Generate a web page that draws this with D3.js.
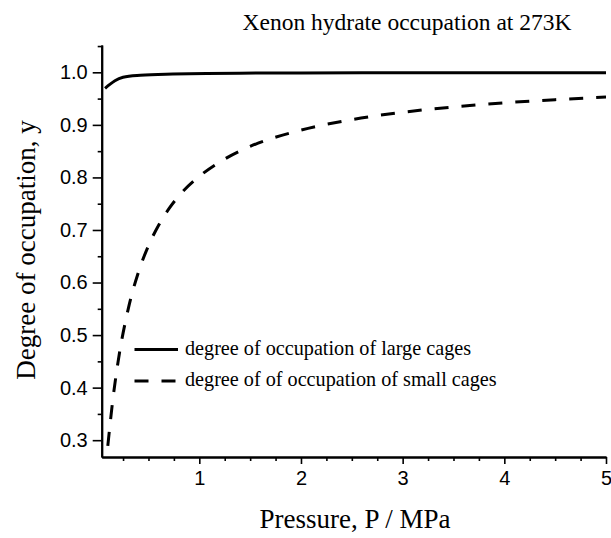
<!DOCTYPE html>
<html>
<head>
<meta charset="utf-8">
<script src="https://cdn.jsdelivr.net/npm/d3@7"></script>
<style>
  html, body { margin: 0; padding: 0; background: #fff; }
  svg { display: block; }
</style>
</head>
<body>
<div id="chart"></div>
<script>
// ---- Data ----
const title = "Xenon hydrate occupation at 273K";
const xLabel = "Pressure, P / MPa";
const yLabel = "Degree of occupation, y";

const largePressure = [0.073, 0.12, 0.17, 0.25, 0.42, 0.74, 1.07, 2.0, 3.0, 4.0, 5.0];
const largeOccupation = [0.9695, 0.977, 0.984, 0.9905, 0.9943, 0.9968, 0.998, 0.9988, 0.9991, 0.9993, 0.9994];

const smallPressure = [0.1, 0.15, 0.2, 0.3, 0.4, 0.5, 0.6, 0.7, 0.8, 1.0, 1.25, 1.5, 2.0, 2.5, 3.0, 3.5, 4.0, 4.5, 5.0];
const smallOccupation = [0.289, 0.378, 0.448, 0.549, 0.619, 0.670, 0.709, 0.740, 0.765, 0.802, 0.835, 0.859, 0.890, 0.910, 0.924, 0.934, 0.942, 0.948, 0.953];

const legendLabels = ["degree of occupation of large cages", "degree of of occupation of small cages"];

const xMajorTicks = [1, 2, 3, 4, 5];
const xMinorTicks = [0.25, 0.5, 0.75, 1.25, 1.5, 1.75, 2.25, 2.5, 2.75, 3.25, 3.5, 3.75, 4.25, 4.5, 4.75];
const yMajorTicks = [0.3, 0.4, 0.5, 0.6, 0.7, 0.8, 0.9, 1.0];
const yMinorTicks = [0.35, 0.45, 0.55, 0.65, 0.75, 0.85, 0.95, 1.05];

// ---- Layout ----
const W = 611, H = 538;
const svg = d3.select("#chart").append("svg").attr("width", W).attr("height", H);

const x = d3.scaleLinear().domain([0.04, 5]).range([101.7, 606]);
const y = d3.scaleLinear().domain([0.268, 1.052]).range([457, 45]);

const serif = "'Liberation Serif', 'Times New Roman', serif";
const sans = "'Liberation Sans', Arial, sans-serif";

// Axes
const xAxisMajor = d3.axisBottom(x).tickValues(xMajorTicks).tickFormat(d3.format("d")).tickSize(7).tickSizeOuter(0);
const xAxisMinor = d3.axisBottom(x).tickValues(xMinorTicks).tickFormat("").tickSize(4).tickSizeOuter(0);
const yAxisMajor = d3.axisLeft(y).tickValues(yMajorTicks).tickFormat(d3.format(".1f")).tickSize(9).tickSizeOuter(0);
const yAxisMinor = d3.axisLeft(y).tickValues(yMinorTicks).tickFormat("").tickSize(4).tickSizeOuter(0);

function styleAxis(g) {
  g.selectAll(".domain").attr("stroke", "#000").attr("stroke-width", 2);
  g.selectAll(".tick line").attr("stroke", "#000").attr("stroke-width", 1.6);
  g.selectAll(".tick text").attr("fill", "#000").style("font-family", sans).style("font-size", "20px");
}

const gx = svg.append("g").attr("transform", `translate(0,${y.range()[0]})`);
gx.append("g").call(xAxisMinor).call(styleAxis);
gx.append("g").call(xAxisMajor).call(styleAxis);
gx.selectAll(".tick text").attr("dy", "0.9em");

const gy = svg.append("g").attr("transform", `translate(${x.range()[0]},0)`);
gy.append("g").call(yAxisMinor).call(styleAxis);
gy.append("g").call(yAxisMajor).call(styleAxis);
gy.selectAll(".tick text").attr("x", -14);

// Lines
const line = d3.line().x(d => x(d[0])).y(d => y(d[1])).curve(d3.curveMonotoneX);
const largeData = largePressure.map((p, i) => [p, largeOccupation[i]]);
const smallData = smallPressure.map((p, i) => [p, smallOccupation[i]]);

svg.append("path").datum(largeData).attr("d", line)
  .attr("fill", "none").attr("stroke", "#000").attr("stroke-width", 3);
svg.append("path").datum(smallData).attr("d", line)
  .attr("fill", "none").attr("stroke", "#000").attr("stroke-width", 3)
  .attr("stroke-dasharray", "14,13");

// Legend
const legend = svg.append("g");
const legendY = [349.5, 381];
const dashes = [null, "14,13"];
legendLabels.forEach((lab, i) => {
  legend.append("line").attr("x1", 134.5).attr("x2", 178).attr("y1", legendY[i]).attr("y2", legendY[i])
    .attr("stroke", "#000").attr("stroke-width", 3).attr("stroke-dasharray", dashes[i]);
  legend.append("text").attr("x", 185).attr("y", legendY[i] + 5)
    .style("font-family", serif).style("font-size", "20.2px").attr("fill", "#000").text(lab);
});

// Title and axis labels
svg.append("text").attr("x", 407).attr("y", 30).attr("text-anchor", "middle")
  .style("font-family", serif).style("font-size", "23.5px").attr("fill", "#000").text(title);
svg.append("text").attr("x", 355).attr("y", 528).attr("text-anchor", "middle")
  .style("font-family", serif).style("font-size", "27px").attr("fill", "#000").text(xLabel);
svg.append("text").attr("transform", "translate(35,250) rotate(-90)").attr("text-anchor", "middle")
  .style("font-family", serif).style("font-size", "27px").attr("fill", "#000").text(yLabel);
</script>
</body>
</html>
